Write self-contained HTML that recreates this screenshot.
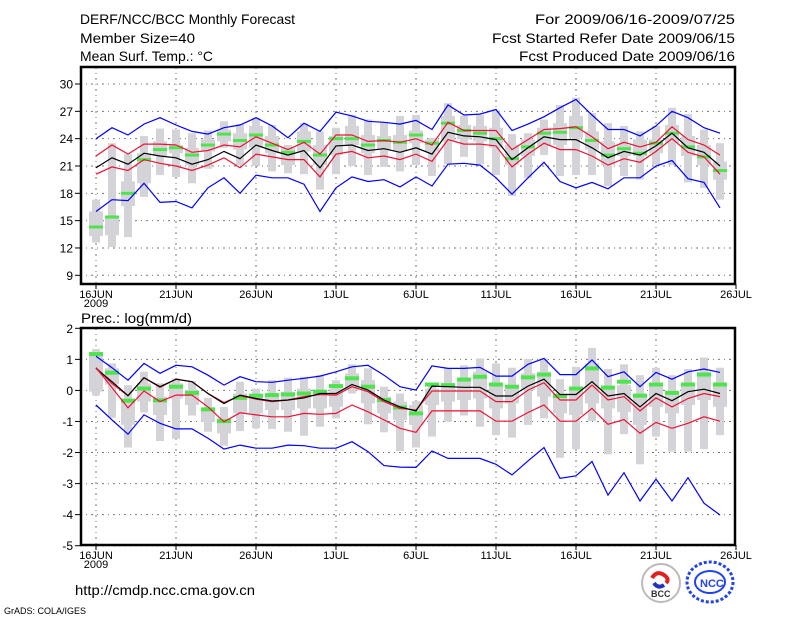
<!DOCTYPE html>
<html><head><meta charset="utf-8"><style>
body{margin:0;background:#fff;}
svg{display:block;font-family:"Liberation Sans",sans-serif;}
</style></head><body>
<svg id="chart" width="800" height="618" viewBox="0 0 800 618">
<g font-size="14" fill="#000">
<text x="80" y="24" textLength="215" lengthAdjust="spacingAndGlyphs">DERF/NCC/BCC Monthly Forecast</text>
<text x="80" y="43" textLength="115" lengthAdjust="spacingAndGlyphs">Member Size=40</text>
<text x="80" y="61" textLength="133" lengthAdjust="spacingAndGlyphs">Mean Surf. Temp.: °C</text>
<text x="535" y="24" textLength="200" lengthAdjust="spacingAndGlyphs">For 2009/06/16-2009/07/25</text>
<text x="492" y="43" textLength="243" lengthAdjust="spacingAndGlyphs">Fcst Started Refer Date 2009/06/15</text>
<text x="519" y="61" textLength="216" lengthAdjust="spacingAndGlyphs">Fcst Produced Date 2009/06/16</text>
<text x="81" y="323" textLength="111" lengthAdjust="spacingAndGlyphs">Prec.: log(mm/d)</text>
<text x="75" y="595" textLength="180" lengthAdjust="spacingAndGlyphs">http://cmdp.ncc.cma.gov.cn</text>
<text x="4" y="614" font-size="9">GrADS: COLA/IGES</text>
</g>
<g>
<circle cx="661" cy="583" r="19" fill="#fff" stroke="#bbb" stroke-width="2"/>
<path d="M652 578 q5 -8 12 -3 q6 4 2 8" stroke="#d22" stroke-width="4" fill="none"/>
<path d="M654 583 q4 6 10 2" stroke="#23b" stroke-width="4" fill="none"/>
<text x="651" y="597" font-size="9" font-weight="bold" fill="#333">BCC</text>
</g>
<g>
<ellipse cx="710" cy="582" rx="23" ry="20" fill="none" stroke="#2244ee" stroke-width="3" stroke-dasharray="3 2"/>
<ellipse cx="710" cy="582" rx="15" ry="11" fill="none" stroke="#2244ee" stroke-width="2"/>
<text x="700" y="587" font-size="11" font-weight="bold" fill="#2244ee">NCC</text>
</g>
<g id="top"></g>
<g id="bot"></g>
</svg>
<script>
const dateLabels = ["16JUN","21JUN","26JUN","1JUL","6JUL","11JUL","16JUL","21JUL","26JUL"];
const tempTicks = [9,12,15,18,21,24,27,30];
const precTicks = [-5,-4,-3,-2,-1,0,1,2];
const tMax = [24,25.2,24.4,25.6,26.3,25.5,24.8,24.5,25.2,25.5,26.3,25.4,24.1,25.7,24.8,26.9,26.5,25.9,25.8,25.6,26,25,27.7,26.6,26.7,27.2,24.9,25.6,26.4,27.4,28.3,26.6,25,25,24.3,25.4,27,26.3,25.2,24.6];
const tUp = [22.1,23.3,22.3,23.4,23.4,23.3,22.5,22.7,23.3,23.1,24.2,23.5,22.8,23.6,22.3,24.4,24.4,23.7,23.8,23.6,24,23.3,25.8,24.9,24.9,24.9,22.8,23.9,25,25.1,25.3,24.2,22.9,23.6,23.1,23.6,25.3,23.9,23.3,22.2];
const tMean = [20.8,21.9,21.2,22.4,22.1,21.9,21.2,21.7,22.6,21.8,23.3,22.7,22.2,22.7,20.8,23.2,23.3,22.7,22.9,22.5,23,22.3,24.7,24.3,24.2,23.9,21.7,23,24.2,23.9,23.9,23,21.9,22.6,22.2,23.2,24.6,23,22.5,21];
const tLow = [20.1,20.9,20.5,21.7,21.3,21,20.5,21.1,21.9,20.8,22.3,22,21.7,21.7,19.8,22.3,22.6,21.9,22.1,21.7,22.3,21.5,23.9,23.4,23.4,23.2,20.9,22.3,23.5,22.8,22.8,22.1,21.1,21.8,21.4,22.6,24,22.5,22,20.1];
const tMin = [16,17.3,17.2,19.1,17,17.1,16.4,18.6,19.7,18,20,19.7,19.7,19,16,18.6,19.8,19.3,19.5,18.7,19.8,18.8,21.2,21.3,21.1,19.7,17.9,19.7,21.4,19.3,18.6,19.2,18.5,19.7,19.7,21,21.6,19.6,19.2,16.4];
const tHi = [17.3,23.5,22.3,24.3,25.1,25,24.6,24.9,25.9,25.6,26.3,25.5,23.3,25.7,24.8,25.2,26.6,26.1,25.8,26.5,26.6,24.1,27.9,26.5,26.6,27,24.5,24.6,26.1,27.7,28.5,26.8,25.7,25.4,24.8,25.4,27.4,26.7,25,23.5];
const tLo = [12.6,12.1,13.2,17.6,20,19.8,19.1,20.7,23,21.1,21,20.4,20.2,20.1,18.4,20.1,21,20,20.9,20.4,21.1,19.9,21.2,22,21.2,20,17.7,19.7,22.2,19.9,20,20,18.8,19.9,19.5,21.1,21.1,19.2,18.6,17.3];
const tQ3 = [16,15.5,19.3,22.4,23.7,23.3,23,23.9,25,24.6,25.4,24.3,23,24.8,23.3,24.3,25.4,24.4,24.3,24.4,24.9,23.9,26.5,25.5,25.4,25.2,23.3,23.9,25.2,25.7,26.5,24.8,23.7,23.3,23.9,23.9,25.5,24.3,23.3,21.5];
const tQ1 = [13.3,13.4,16.6,19.1,22.1,22.4,21.1,22.6,23.7,22.8,23,22.4,21.1,22.6,21.1,22.2,23.3,22.4,22.8,22.6,23.5,22.6,23.7,23.9,23.7,23,21.1,22.1,23.2,23.3,24.1,22.8,21.1,22.1,22.1,22.4,23.5,22.1,21.1,19.5];
const tObs = [14.3,15.4,18,21.7,22.8,23,22.2,23.3,24.5,23.8,24.4,23.3,22.5,23.7,22.2,24,24,23.3,23.8,23.6,24.4,23.5,25.7,24.9,24.6,24,21.8,23.1,24.6,24.7,25.2,23.8,22.2,22.9,22.4,23.5,24.6,23.1,22,20.5];
const pMax = [1.1,0.73,0.33,0.87,0.55,0.81,0.76,0.49,0.17,0.44,0.28,0.26,0.33,0.39,0.46,0.6,0.76,0.81,0.49,0.12,0.01,0.79,0.71,0.71,0.74,0.46,0.46,0.84,1.03,0.51,0.51,0.98,0.44,0.6,0.12,0.58,0.36,0.6,0.69,0.58];
const pUp = [0.73,0.22,-0.17,0.41,0.1,0.36,0.28,-0.1,-0.39,-0.17,-0.28,-0.36,-0.31,-0.2,-0.13,-0.15,0.12,-0.04,-0.36,-0.58,-0.63,-0.02,-0.02,-0.02,-0.02,-0.36,-0.36,0.01,0.25,-0.31,-0.31,0.17,-0.31,-0.2,-0.66,-0.24,-0.53,-0.26,-0.1,-0.2];
const pMean = [0.71,0.28,-0.17,0.41,0.12,0.36,0.28,-0.1,-0.42,-0.15,-0.26,-0.34,-0.31,-0.24,-0.1,-0.1,0.19,0.01,-0.31,-0.53,-0.66,0.14,0.12,0.1,0.1,-0.18,-0.18,0.14,0.36,-0.13,-0.13,0.28,-0.18,-0.1,-0.53,-0.1,-0.33,-0.04,0.04,-0.1];
const pLow = [0.73,0.09,-0.56,-0.02,-0.36,-0.15,-0.15,-0.53,-1.01,-0.72,-0.79,-0.85,-0.85,-0.74,-0.77,-0.74,-0.47,-0.69,-0.95,-1.22,-1.35,-0.66,-0.66,-0.66,-0.66,-0.99,-0.99,-0.71,-0.47,-0.99,-0.99,-0.58,-1.09,-0.94,-1.38,-1.03,-1.22,-1.06,-0.85,-0.99];
const pMin = [-0.47,-0.95,-1.41,-0.79,-1.06,-1.24,-1.24,-1.54,-1.89,-1.76,-1.86,-1.86,-1.76,-1.78,-1.86,-1.86,-1.65,-1.97,-2.42,-2.47,-2.48,-1.95,-2.19,-2.19,-2.19,-2.38,-2.72,-2.27,-1.84,-2.83,-2.75,-2.29,-3.37,-2.65,-3.56,-2.86,-3.56,-2.81,-3.63,-4.01];
const pHi = [1.33,0.87,0.17,0.6,0.23,0.39,0.3,-0.24,-0.53,0.28,0.06,0.33,0.41,0.44,0.49,0.33,0.84,0.71,0.12,-0.1,-0.34,0.23,0.71,0.81,1.03,0.87,0.73,1.01,1.03,0.36,0.76,1.37,0.69,0.84,0.49,0.73,0.49,0.69,1.06,0.73];
const pLo = [-0.17,-0.88,-1.84,-0.71,-1.63,-1.56,-0.81,-1.33,-1.78,-1.31,-1.22,-1.24,-1.33,-1.46,-1.17,-0.9,-0.1,-1.09,-1.35,-1.95,-1.84,-1.49,-1.01,-0.81,-1.17,-1.44,-1.52,-1.11,-0.9,-2.17,-1.89,-0.99,-2.06,-1.41,-2.38,-1.49,-1.97,-1.97,-1.89,-1.44];
const pQ3 = [1.24,0.71,-0.26,0.23,-0.2,0.23,0.01,-0.58,-0.9,-0.1,-0.15,-0.1,-0.04,0.06,0.01,0.06,0.55,0.33,-0.2,-0.36,-0.47,0.06,0.23,0.33,0.6,0.12,0.17,0.55,0.6,-0.1,0.06,0.87,0.12,0.17,-0.1,0.23,-0.15,0.12,0.6,0.23];
const pQ1 = [-0.04,0.19,-1.11,-0.36,-0.79,-0.26,-0.47,-1.01,-1.38,-0.74,-0.74,-0.63,-0.63,-0.58,-0.58,-0.53,0.01,-0.42,-0.74,-0.95,-1.11,-0.47,-0.36,-0.31,-0.26,-0.58,-0.42,0.01,-0.2,-0.74,-0.79,-0.42,-0.58,-0.69,-1.11,-0.53,-0.74,-0.47,-0.31,-0.53];
const pObs = [1.17,0.57,-0.33,0.06,-0.32,0.12,-0.08,-0.61,-0.99,-0.24,-0.17,-0.15,-0.13,-0.1,-0.04,0.14,0.39,0.12,-0.31,-0.55,-0.74,0.19,0.17,0.35,0.44,0.19,0.12,0.42,0.51,-0.18,0.06,0.71,0.09,0.28,-0.17,0.19,-0.08,0.19,0.51,0.19];

const NS='http://www.w3.org/2000/svg';
function mk(parent,tag,attrs){const e=document.createElementNS(NS,tag);for(const k in attrs)e.setAttribute(k,attrs[k]);parent.appendChild(e);return e;}
const xOf = i => 96 + 16*i;

function panel(g, cfg){
  const {top,bottom,vmin,vmax,ticks,hi,lo,q3,q1,obs,lines,gh,name} = cfg;
  const y = v => bottom - (v - vmin)/(vmax - vmin)*(bottom - top);
  const L=80, R=735, T=cfg.frameTop, B=cfg.frameBot;
  ticks.forEach(t=>{
    const l=mk(g,'line',{x1:L,x2:R,y1:y(t),y2:y(t),stroke:'#777','stroke-dasharray':'2 4 1 4','stroke-width':1});
    
    
    const tk=mk(g,'line',{x1:L-5,x2:L,y1:y(t),y2:y(t),stroke:'#000','stroke-width':1});
    
    
    const tx=mk(g,'text',{x:L-7,y:y(t)+4.5,'text-anchor':'end','font-size':12});
    tx.textContent=t;
    
    
  });
  dateLabels.forEach((d,k)=>{
    const x=xOf(5*k);
    if(k<8){const l=mk(g,'line',{x1:x,x2:x,y1:T,y2:B,stroke:'#777','stroke-dasharray':'2 4 1 4','stroke-width':1});
    
    }
    const tk=mk(g,'line',{x1:x,x2:x,y1:B,y2:B+5,stroke:'#000','stroke-width':1});
    
    
    const tx=mk(g,'text',{x:x,y:B+14,'text-anchor':'middle','font-size':11});
    tx.textContent=d;
    
    
  });
  const yr=mk(g,'text',{x:96,y:B+23,'text-anchor':'middle','font-size':11});
  yr.textContent='2009';
  
  
  hi.forEach((h,i)=>{
    const x=xOf(i);
    const w=mk(g,'rect',{x:x-4,y:y(h),width:8,height:Math.max(1,y(lo[i])-y(h)),fill:'#d4d4d8'});
    
    
    const b=mk(g,'rect',{x:x-7,y:y(q3[i]),width:14,height:Math.max(1,y(q1[i])-y(q3[i])),fill:'#d4d4d8'});
    
    
  });
  obs.forEach((v,i)=>{
    const r=mk(g,'rect',{x:xOf(i)-7,y:y(v)-gh/2,width:14,height:gh,fill:'#4ee44e'});
    
    
  });
  lines.forEach(([arr,col,nm])=>{
    const p=mk(g,'polyline',{points:arr.map((v,i)=>xOf(i)+','+y(v).toFixed(1)).join(' '),fill:'none',stroke:col,'stroke-width':1.2});
    
    
  });
  const f=mk(g,'rect',{x:L+1,y:T,width:R-L-1,height:B-T,fill:'none',stroke:'#000','stroke-width':2.5});
  
  
}
panel(document.getElementById('top'),{name:'temp',top:84,bottom:275.3,vmin:9,vmax:30,frameTop:67,frameBot:284,ticks:tempTicks,
  hi:tHi,lo:tLo,q3:tQ3,q1:tQ1,obs:tObs,gh:3,
  lines:[[tMax,'#0000ff','max-line'],[tUp,'#ee1133','upper-line'],[tMean,'#000','mean-line'],[tLow,'#ee1133','lower-line'],[tMin,'#0000ff','min-line']]});
panel(document.getElementById('bot'),{name:'prec',top:328.3,bottom:545.7,vmin:-5,vmax:2,frameTop:328,frameBot:545,ticks:precTicks,
  hi:pHi,lo:pLo,q3:pQ3,q1:pQ1,obs:pObs,gh:4,
  lines:[[pMax,'#0000ff','max-line'],[pUp,'#ee1133','upper-line'],[pMean,'#000','mean-line'],[pLow,'#ee1133','lower-line'],[pMin,'#0000ff','min-line']]});
</script>
</body></html>
